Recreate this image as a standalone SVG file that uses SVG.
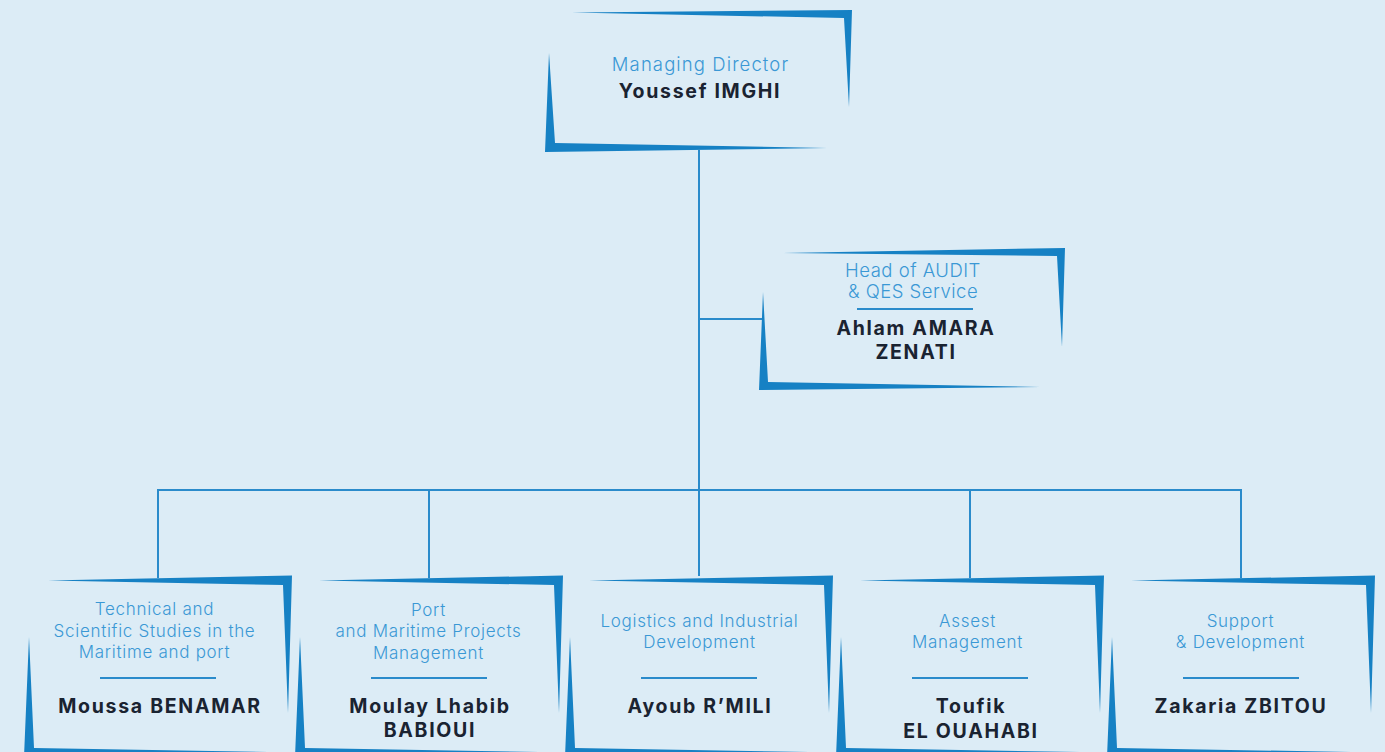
<svg xmlns="http://www.w3.org/2000/svg" xmlns:xlink="http://www.w3.org/1999/xlink" width="1385" height="752" viewBox="0 0 1385 752">
<style>
.br{fill:#1681c4}
.ln{stroke:#2a8bcb;stroke-width:2;fill:none}
.sep{stroke:#2a8bcb;stroke-width:2}
.t{font-family:Inter,"Open Sans","Liberation Sans",sans-serif;font-weight:300;fill:#3a98d5;text-anchor:middle;letter-spacing:0.7px}
.tb{font-size:17px}
.tt{font-size:18.5px}
.n{font-family:Inter,"Open Sans","Liberation Sans",sans-serif;font-weight:700;fill:#1a2331;text-anchor:middle;font-size:19.5px;letter-spacing:1.7px}
</style>
<defs>
<g id="bb">
<path class="br" d="M -110 580.5 L 134 575.5 L 130 713 L 125 585 Z"/>
<path class="br" d="M -129 637 L -134 757 L 110 752 L -124 748 Z"/>
<line class="sep" x1="-58" y1="678" x2="58" y2="678"/>
</g>
</defs>
<rect width="1385" height="752" fill="#dcecf6"/>
<g id="connectors">
<line class="ln" x1="699" y1="150" x2="699" y2="576"/>
<line class="ln" x1="699" y1="319" x2="763" y2="319"/>
<line class="ln" x1="157" y1="490" x2="1242" y2="490"/>
<line class="ln" x1="158" y1="489" x2="158" y2="578"/>
<line class="ln" x1="429" y1="489" x2="429" y2="578"/>
<line class="ln" x1="970" y1="489" x2="970" y2="578"/>
<line class="ln" x1="1241" y1="489" x2="1241" y2="578"/>
</g>
<g id="md">
<path class="br" d="M 572 12.5 L 852 10 L 849 107 L 844 18 Z"/>
<path class="br" d="M 549 53 L 545 152 L 827 148 L 555 143 Z"/>
<text class="t tt" x="700.5" y="71" style="letter-spacing:1.1px">Managing Director</text>
<text class="n" x="700" y="98">Youssef IMGHI</text>
</g>
<g id="audit">
<path class="br" d="M 783 253 L 1065 248 L 1062 347 L 1057 256 Z"/>
<path class="br" d="M 763 292 L 759 390 L 1040 387 L 768 382 Z"/>
<text class="t tt" x="913" y="277" style="letter-spacing:0.5px">Head of AUDIT</text>
<text class="t tt" x="913" y="298" style="letter-spacing:0.5px">&amp; QES Service</text>
<line class="sep" x1="857" y1="309" x2="973" y2="309"/>
<text class="n" x="916" y="335">Ahlam AMARA</text>
<text class="n" x="916" y="359">ZENATI</text>
</g>
<g id="studies">
<use xlink:href="#bb" href="#bb" x="158"/>
<text class="t tb" x="154.5" y="615">Technical and</text>
<text class="t tb" x="154.5" y="637">Scientific Studies in the</text>
<text class="t tb" x="154.5" y="658">Maritime and port</text>
<text class="n" x="160" y="713">Moussa BENAMAR</text>
</g>
<g id="projects">
<use xlink:href="#bb" href="#bb" x="429"/>
<text class="t tb" x="428.5" y="616">Port</text>
<text class="t tb" x="428.5" y="637">and Maritime Projects</text>
<text class="t tb" x="428.5" y="659">Management</text>
<text class="n" x="430" y="713">Moulay Lhabib</text>
<text class="n" x="430" y="737">BABIOUI</text>
</g>
<g id="logistics">
<use xlink:href="#bb" href="#bb" x="699"/>
<text class="t tb" x="699.5" y="627">Logistics and Industrial</text>
<text class="t tb" x="699.5" y="648">Development</text>
<text class="n" x="700" y="713">Ayoub R’MILI</text>
</g>
<g id="asset">
<use xlink:href="#bb" href="#bb" x="970"/>
<text class="t tb" x="967.5" y="627">Assest</text>
<text class="t tb" x="967.5" y="648">Management</text>
<text class="n" x="971" y="713">Toufik</text>
<text class="n" x="971" y="738">EL OUAHABI</text>
</g>
<g id="support">
<use xlink:href="#bb" href="#bb" x="1241"/>
<text class="t tb" x="1240.5" y="627">Support</text>
<text class="t tb" x="1240.5" y="648">&amp; Development</text>
<text class="n" x="1241" y="713">Zakaria ZBITOU</text>
</g>
</svg>
